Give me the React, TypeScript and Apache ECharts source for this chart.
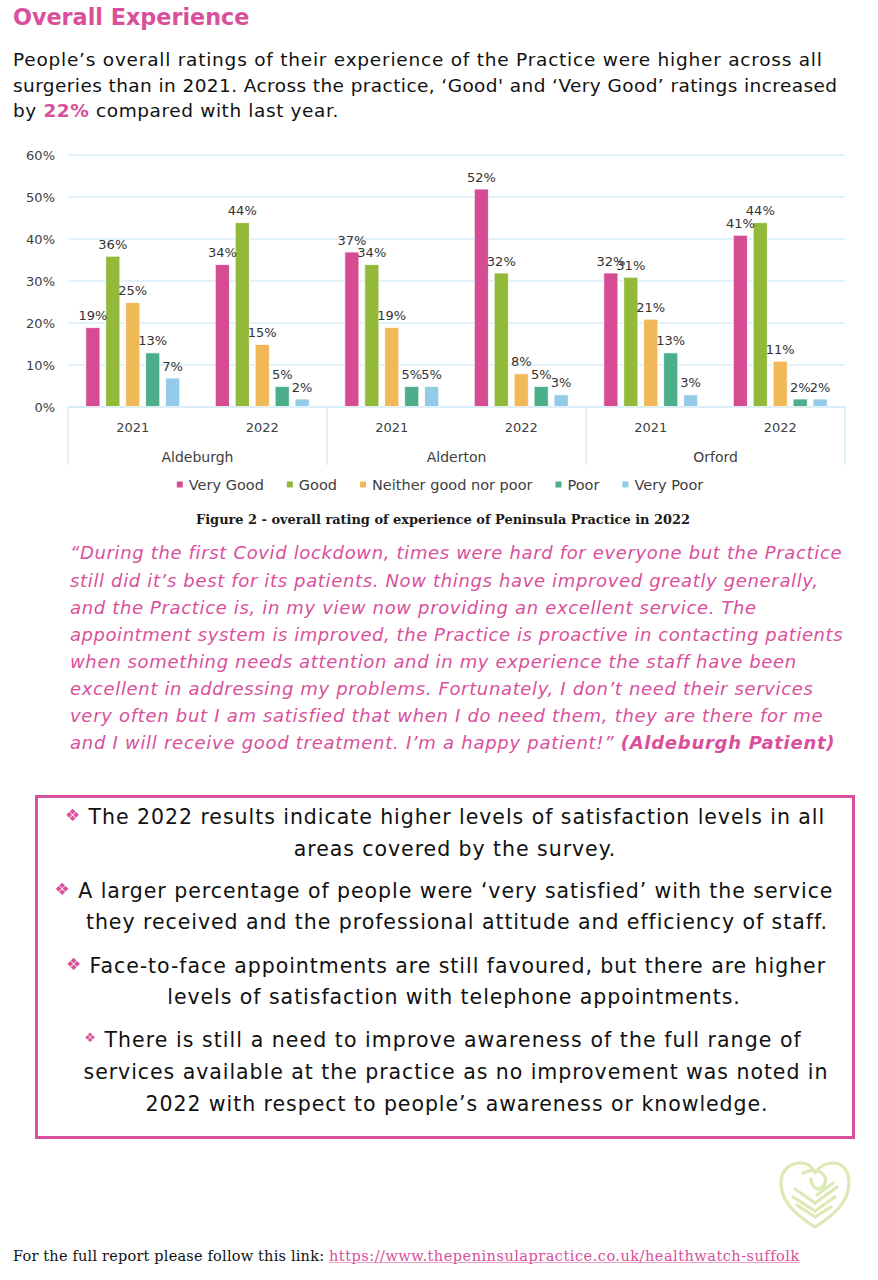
import React, { useEffect, useRef } from "react";
import * as echarts from "echarts";

const yearLabels = ["2021", "2022", "2021", "2022", "2021", "2022"];
const surgeries = ["Aldeburgh", "Alderton", "Orford"];
const seriesNames = ["Very Good", "Good", "Neither good nor poor", "Poor", "Very Poor"];
const veryGood = [19, 34, 37, 52, 32, 41];
const good = [36, 44, 34, 32, 31, 44];
const neither = [25, 15, 19, 8, 21, 11];
const poor = [13, 5, 5, 5, 13, 2];
const veryPoor = [7, 2, 5, 3, 3, 2];
const seriesColors = ["#D64C93", "#92B93A", "#F1B858", "#4CAE8A", "#92CAE8"];

const PINK = "#D94F9B";
const SANS = "'DejaVu Sans', Verdana, sans-serif";
const SERIF = "'DejaVu Serif', serif";

function Chart() {
  const ref = useRef<HTMLDivElement>(null);
  useEffect(() => {
    const chart = echarts.init(ref.current!, undefined, { renderer: "svg" });
    const values = [veryGood, good, neither, poor, veryPoor];
    chart.setOption({
      animation: false,
      textStyle: { fontFamily: SANS },
      grid: { left: 68, right: 33, top: 15, height: 252 },
      legend: {
        top: 332,
        left: "center",
        icon: "rect",
        itemWidth: 8,
        itemHeight: 8,
        itemGap: 21,
        textStyle: { fontSize: 14.5, color: "#404040", fontFamily: SANS },
        data: seriesNames,
      },
      xAxis: [
        {
          type: "category",
          data: yearLabels,
          position: "bottom",
          axisLine: { show: true, lineStyle: { color: "#D5ECF8", width: 1.5 } },
          axisTick: { show: false },
          axisLabel: { margin: 14, fontSize: 13, color: "#404040" },
        },
        {
          type: "category",
          data: surgeries,
          position: "bottom",
          axisLine: { show: false },
          axisTick: { show: true, length: 58, lineStyle: { color: "#D5ECF8", width: 1.5 } },
          axisLabel: { margin: 43, fontSize: 14, color: "#404040" },
        },
      ],
      yAxis: {
        type: "value",
        min: 0,
        max: 60,
        interval: 10,
        axisLine: { show: false },
        axisTick: { show: false },
        axisLabel: { formatter: "{value}%", margin: 13, fontSize: 13, color: "#404040" },
        splitLine: { lineStyle: { color: "#D8EEF9", width: 1.5 } },
      },
      series: seriesNames.map((name, i) => ({
        name,
        type: "bar",
        xAxisIndex: 0,
        data: values[i],
        barWidth: 15,
        barGap: "33%",
        itemStyle: { color: seriesColors[i], borderColor: "#ffffff", borderWidth: 0.8 },
        label: {
          show: true,
          position: "top",
          distance: 5,
          formatter: "{c}%",
          fontSize: 13,
          color: "#333333",
          fontFamily: SANS,
        },
      })),
    });
    return () => chart.dispose();
  }, []);
  return <div ref={ref} style={{ position: "absolute", left: 0, top: 140, width: 878, height: 370 }} />;
}

function Line(props: {
  y: number;
  x?: number;
  center?: number;
  size: number;
  ls?: number;
  children: React.ReactNode;
  style?: React.CSSProperties;
}) {
  const lh = props.size * 1.4;
  const base: React.CSSProperties = {
    position: "absolute",
    top: props.y - lh / 2,
    lineHeight: `${lh}px`,
    fontSize: props.size,
    letterSpacing: props.ls ?? 0,
    whiteSpace: "nowrap",
    fontFamily: SANS,
    color: "#111111",
  };
  if (props.center !== undefined) {
    base.left = props.center - 500;
    base.width = 1000;
    base.textAlign = "center";
  } else {
    base.left = props.x;
  }
  return <div style={{ ...base, ...props.style }}>{props.children}</div>;
}

const Bullet = ({ size }: { size?: number }) => (
  <span style={{ color: "#D9509A", fontSize: size ?? 17, verticalAlign: "middle", position: "relative", top: -2 }}>❖</span>
);

function Heart() {
  return (
    <svg
      width={76}
      height={74}
      viewBox="0 0 76 74"
      style={{ position: "absolute", left: 777, top: 1159 }}
      fill="none"
      stroke="#DCE9B4"
      strokeWidth={3.2}
      strokeLinecap="round"
      strokeLinejoin="round"
    >
      <path d="M38 68 C 22 58, 4 44, 4 24 C 4 10, 14 4, 24 4 C 32 4, 36 9, 38 14 C 42 8, 48 4, 56 4 C 66 4, 72 12, 72 24 C 72 44, 54 58, 38 68 Z" />
      <path d="M26 14 C 34 10, 44 10, 48 18 C 50 24, 46 30, 40 30 C 36 28, 34 24, 34 20" />
      <path d="M18 30 L 38 44" />
      <path d="M16 38 L 38 52" />
      <path d="M20 46 L 38 58" />
      <path d="M38 44 L 60 28" />
      <path d="M38 52 L 58 38" />
      <path d="M38 58 L 54 48" />
      <path d="M40 36 L 56 24" />
    </svg>
  );
}

const BODY = 18.5;
const QUOTE = 18;
const BOX = 20.5;
const BOX_LS = 0.95;

const quoteLines = [
  "“During the first Covid lockdown, times were hard for everyone but the Practice",
  "still did it’s best for its patients. Now things have improved greatly generally,",
  "and the Practice is, in my view now providing an excellent service. The",
  "appointment system is improved, the Practice is proactive in contacting patients",
  "when something needs attention and in my experience the staff have been",
  "excellent in addressing my problems. Fortunately, I don’t need their services",
  "very often but I am satisfied that when I do need them, they are there for me",
];
const quoteLs = [0.65, 0.65, 0.65, 0.55, 0.65, 0.65, 0.7];

export default function App() {
  return (
    <div
      style={{
        position: "absolute",
        left: 0,
        top: 0,
        width: 878,
        height: 1280,
        background: "#ffffff",
        overflow: "hidden",
      }}
    >
      <Line x={13} y={18} size={22.3} style={{ color: PINK, fontWeight: "bold" }}>
        Overall Experience
      </Line>
      <Line x={13} y={60} size={BODY} ls={0.77}>
        People’s overall ratings of their experience of the Practice were higher across all
      </Line>
      <Line x={13} y={86} size={BODY} ls={0.41}>
        surgeries than in 2021. Across the practice, ‘Good' and ‘Very Good’ ratings increased
      </Line>
      <Line x={13} y={111} size={BODY} ls={0.6}>
        by <span style={{ color: PINK, fontWeight: "bold" }}>22%</span> compared with last year.
      </Line>

      <Chart />

      <Line center={443} y={520} size={12.95} style={{ fontFamily: SERIF, fontWeight: "bold", color: "#1a1a1a" }}>
        Figure 2 - overall rating of experience of Peninsula Practice in 2022
      </Line>

      {quoteLines.map((t, i) => (
        <Line key={i} x={70} y={553 + i * 27.1} size={QUOTE} ls={quoteLs[i]} style={{ color: PINK, fontStyle: "italic" }}>
          {t}
        </Line>
      ))}
      <Line x={70} y={743} size={QUOTE} ls={0.72} style={{ color: PINK, fontStyle: "italic" }}>
        and I will receive good treatment. I’m a happy patient!”{" "}
        <span style={{ fontWeight: "bold" }}>(Aldeburgh Patient)</span>
      </Line>

      <div
        style={{
          position: "absolute",
          left: 35,
          top: 795,
          width: 814,
          height: 338,
          border: "3px solid #D6509A",
        }}
      />
      <Line center={445} y={817} size={BOX} ls={BOX_LS}>
        <Bullet /> The 2022 results indicate higher levels of satisfaction levels in all
      </Line>
      <Line center={455} y={849} size={BOX} ls={BOX_LS}>
        areas covered by the survey.
      </Line>
      <Line center={444} y={891} size={BOX} ls={BOX_LS}>
        <Bullet /> A larger percentage of people were ‘very satisfied’ with the service
      </Line>
      <Line center={457} y={922} size={BOX} ls={BOX_LS}>
        they received and the professional attitude and efficiency of staff.
      </Line>
      <Line center={446} y={966} size={BOX} ls={BOX_LS}>
        <Bullet /> Face-to-face appointments are still favoured, but there are higher
      </Line>
      <Line center={454} y={997} size={BOX} ls={BOX_LS}>
        levels of satisfaction with telephone appointments.
      </Line>
      <Line center={443} y={1040} size={BOX} ls={BOX_LS + 0.1}>
        <Bullet size={13} /> There is still a need to improve awareness of the full range of
      </Line>
      <Line center={456} y={1072} size={BOX} ls={BOX_LS}>
        services available at the practice as no improvement was noted in
      </Line>
      <Line center={457} y={1104} size={BOX} ls={BOX_LS}>
        2022 with respect to people’s awareness or knowledge.
      </Line>

      <Heart />

      <Line x={13} y={1256} size={14.5} ls={0.2} style={{ fontFamily: SERIF, color: "#111" }}>
        For the full report please follow this link:{" "}
        <span
          style={{
            color: "#D6509A",
            textDecoration: "underline",
            textDecorationColor: "#E9A0C6",
            letterSpacing: 0.5,
          }}
        >
          https://www.thepeninsulapractice.co.uk/healthwatch-suffolk
        </span>
      </Line>
    </div>
  );
}
